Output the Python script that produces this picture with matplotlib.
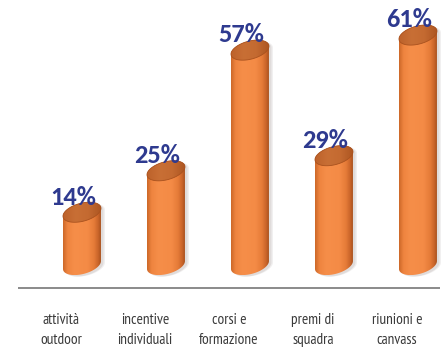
import numpy as np
import matplotlib
matplotlib.use("Agg")
import matplotlib.pyplot as plt
from matplotlib.colors import LinearSegmentedColormap
from matplotlib.patches import Polygon

categories = ["attività\noutdoor", "incentive\nindividuali", "corsi e\nformazione",
              "premi di\nsquadra", "riunioni e\ncanvass"]
values = [14, 25, 57, 29, 61]
value_labels = ["14%", "25%", "57%", "29%", "61%"]

W, H, DPI = 443, 357, 100
fig = plt.figure(figsize=(W / DPI, H / DPI), dpi=DPI)
ax = fig.add_axes([0, 0, 1, 1])
ax.set_axis_off()

XLIM = (-0.976, 4.298)
YLIM = (-24.4, 70.3)

body_cmap = LinearSegmentedColormap.from_list(
    "body", [(0.0, "#cc6828"), (0.12, "#ee843f"), (0.3, "#f68e49"), (0.65, "#f48b46"),
             (0.82, "#e57b38"), (0.93, "#c9642a"), (1.0, "#a9521f")])
top_cmap = LinearSegmentedColormap.from_list("top", ["#bd622b", "#c86f35", "#c46a31", "#ad5622"])

A_PX, B_PX, TILT = 19.5, 9.0, np.deg2rad(15)   # cylinder cross-section, in pixels


def to_data(pts):
    return ax.transData.inverted().transform(pts)


def ellipse_px(cx, cy, t):
    x = A_PX * np.cos(t)
    y = B_PX * np.sin(t)
    return np.column_stack([cx + x * np.cos(TILT) - y * np.sin(TILT),
                            cy + x * np.sin(TILT) + y * np.cos(TILT)])


ax.set_xlim(*XLIM)
ax.set_ylim(*YLIM)

# parameter of the left/right extreme points of the tilted ellipse
t_right = np.arctan2(-B_PX * np.sin(TILT), A_PX * np.cos(TILT))
t_left = t_right + np.pi

grad = np.linspace(0, 1, 256).reshape(1, -1)
for i, v in enumerate(values):
    bx, by = ax.transData.transform((i, 0))
    tx, ty = ax.transData.transform((i, v))
    # side silhouette: lower arc of the base, upper arc of the top
    lower = ellipse_px(bx, by, np.linspace(t_left, t_right + 2 * np.pi, 80))
    upper = ellipse_px(tx, ty, np.linspace(t_right, t_left, 80))
    outline = np.vstack([lower, upper])

    # soft drop shadow to the right
    for k, a in ((4, 0.10), (2.5, 0.14)):
        shadow = to_data(outline + np.array([k, -1.5]))
        ax.add_patch(Polygon(shadow, closed=True, facecolor="#7a6a66", alpha=a,
                             edgecolor="none", zorder=1))

    body = to_data(outline)
    poly = Polygon(body, closed=True, facecolor="none", edgecolor="none")
    ax.add_patch(poly)
    x0, x1 = body[:, 0].min(), body[:, 0].max()
    y0, y1 = body[:, 1].min(), body[:, 1].max()
    im = ax.imshow(grad, cmap=body_cmap, extent=[x0, x1, y0, y1],
                   aspect="auto", zorder=2, interpolation="bilinear")
    im.set_clip_path(poly)

    cap = to_data(ellipse_px(tx, ty, np.linspace(0, 2 * np.pi, 120)))
    cap_poly = Polygon(cap, closed=True, facecolor="none", edgecolor="#a9521f",
                       linewidth=0.6, zorder=4)
    ax.add_patch(cap_poly)
    cx0, cx1 = cap[:, 0].min(), cap[:, 0].max()
    cy0, cy1 = cap[:, 1].min(), cap[:, 1].max()
    im2 = ax.imshow(grad, cmap=top_cmap, extent=[cx0, cx1, cy0, cy1],
                    aspect="auto", zorder=3, interpolation="bilinear")
    im2.set_clip_path(cap_poly)

    ax.annotate(value_labels[i], (i, v), xytext=(-6.5, 5.5), textcoords="offset points",
                ha="center", va="baseline", fontsize=19, fontweight="bold",
                color="#2e3a8f", family=["Carlito", "DejaVu Sans"], zorder=5)

    ax.text(i - 0.25, -17.2, categories[i], ha="center", va="center",
            multialignment="center", fontsize=11, color="#3a3a3a",
            family=["PT Sans Narrow", "DejaVu Sans"], linespacing=1.55)

ax.plot([-0.762, 4.26], [-6.1, -6.1], color="#8a8a8a", lw=1.4, solid_capstyle="butt")

ax.set_xlim(*XLIM)
ax.set_ylim(*YLIM)
ax.set_aspect("auto")
fig.savefig("out.png", dpi=DPI, facecolor="white")
